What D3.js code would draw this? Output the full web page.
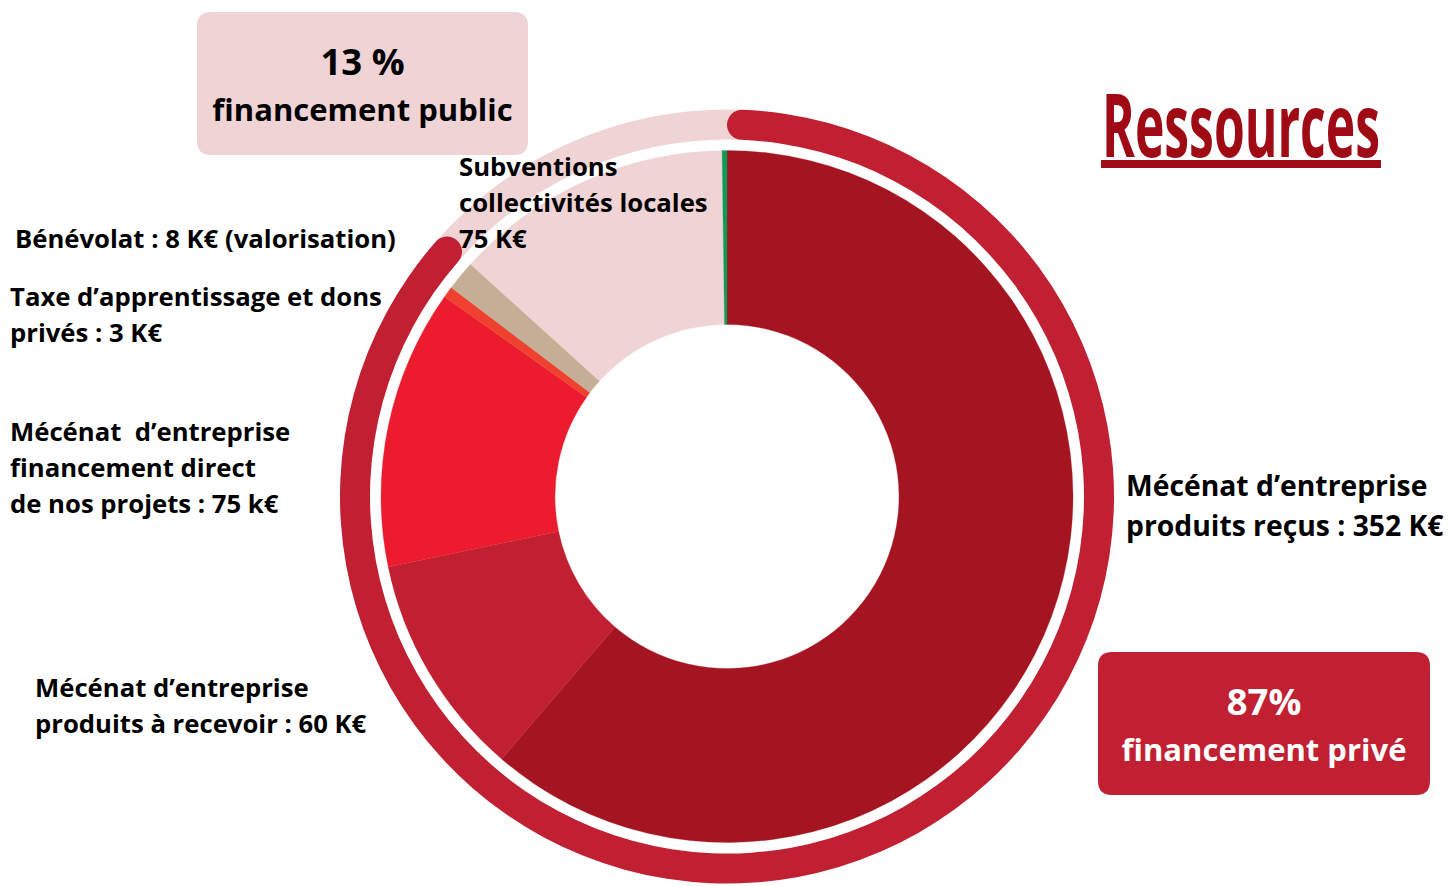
<!DOCTYPE html>
<html>
<head>
<meta charset="utf-8">
<script src="https://cdn.jsdelivr.net/npm/d3@7"></script>
<style>
  html, body { margin: 0; padding: 0; background: #fff; }
  svg { display: block; }
  text { font-family: "Open Sans", "Noto Sans", sans-serif; font-weight: 700; }
</style>
</head>
<body>
<svg width="1448" height="886"></svg>
<script>
// données (K€)
const categories = [
    'Mécénat d’entreprise produits reçus',
    'Mécénat d’entreprise produits à recevoir',
    'Mécénat d’entreprise financement direct',
    'Taxe d’apprentissage et dons privés',
    'Bénévolat',
    'Subventions collectivités locales',
    'Autres'
];
const values = [352, 60, 75, 3, 8, 75, 1.3];
const colors = ['#a51521', '#c12033', '#ec1c2e', '#ef4130', '#c4ae96', '#efd3d5', '#0f9a57'];

const shareLabels = ['87%', '13 %'];
const privateShare = 0.87;

const sliceLabels = [
    {lines: ['Mécénat d’entreprise', 'produits reçus : 352 K€'], x: 1126, y: 485, dy: 40, size: 28.3},
    {lines: ['Mécénat d’entreprise', 'produits à recevoir : 60 K€'], x: 35, y: 687, dy: 36, size: 25.7},
    {lines: ['Mécénat  d’entreprise', 'financement direct', 'de nos projets : 75 k€'], x: 10, y: 431, dy: 36, size: 25.7},
    {lines: ['Taxe d’apprentissage et dons', 'privés : 3 K€'], x: 10, y: 296, dy: 36, size: 25.7},
    {lines: ['Bénévolat : 8 K€ (valorisation)'], x: 15, y: 238, dy: 36, size: 25.7},
    {lines: ['Subventions', 'collectivités locales', '75 K€'], x: 459, y: 166, dy: 36, size: 25.7}
];

const svg = d3.select('svg');
const cx = 727;
const cy = 496.5;

const rInner = 172;
const rOuter = 346;
const ringInner = 357;
const ringOuter = 387;

const g = svg.append('g').attr('transform', `translate(${cx}, ${cy})`);

// anneau extérieur : public (fond) puis privé (bouts arrondis)
const ringArc = d3.arc().innerRadius(ringInner).outerRadius(ringOuter);
const tau = 2 * Math.PI;

g.append('path')
    .attr('d', ringArc({startAngle: privateShare * tau - 0.1, endAngle: tau + 0.05}))
    .attr('fill', '#efd3d5');

g.append('path')
    .attr('d', ringArc.cornerRadius(15)({startAngle: 0, endAngle: privateShare * tau + 0.005}))
    .attr('fill', '#c12033');

// donut
const pie = d3.pie().sort(null).value(d => d)(values);
const arc = d3.arc().innerRadius(rInner).outerRadius(rOuter);

g.selectAll('path.slice')
    .data(pie)
    .join('path')
    .attr('class', 'slice')
    .attr('d', arc)
    .attr('fill', (d, i) => colors[i])
    .attr('stroke', (d, i) => colors[i])
    .attr('stroke-width', 0.3);

// libellés
sliceLabels.forEach(lab => {
    const t = svg.append('text')
        .attr('x', lab.x)
        .attr('font-size', lab.size)
        .attr('fill', '#000');
    lab.lines.forEach((line, i) => {
        t.append('tspan')
            .attr('x', lab.x)
            .attr('y', lab.y + i * lab.dy)
            .attr('dominant-baseline', 'central')
            .style('white-space', 'pre')
            .text(line);
    });
});

// encadrés
function box(x, y, w, h, fill, textColor, big, small) {
    svg.append('path')
        .attr('d', `M${x + 14},${y} H${x + w - 14} Q${x + w},${y} ${x + w},${y + 14} V${y + h - 14} Q${x + w},${y + h} ${x + w - 14},${y + h} H${x + 14} Q${x},${y + h} ${x},${y + h - 14} V${y + 14} Q${x},${y} ${x + 14},${y} Z`)
        .attr('fill', fill);
    svg.append('text')
        .attr('x', x + w / 2)
        .attr('y', y + h * 0.34)
        .attr('text-anchor', 'middle')
        .attr('dominant-baseline', 'central')
        .attr('font-size', 36.5)
        .attr('fill', textColor)
        .text(big);
    svg.append('text')
        .attr('x', x + w / 2)
        .attr('y', y + h * 0.68)
        .attr('text-anchor', 'middle')
        .attr('dominant-baseline', 'central')
        .attr('font-size', 31)
        .attr('fill', textColor)
        .text(small);
}

box(197, 12, 331, 143, '#efd3d5', '#000', shareLabels[1], 'financement public');
box(1098, 652, 332, 143, '#c12033', '#fff', shareLabels[0], 'financement privé');

// titre (police étroite, resserrée à la largeur voulue)
const titleG = svg.append('g');
const title = titleG.append('text')
    .attr('x', 0)
    .attr('y', 0)
    .attr('font-family', '"Liberation Sans Narrow", "DejaVu Sans Condensed", sans-serif')
    .attr('font-size', 88)
    .attr('fill', '#a00a14')
    .text('Ressources');
const titleW = title.node().getComputedTextLength();
titleG.attr('transform', `translate(1102, 157) scale(${278 / titleW}, 1)`);

svg.append('rect')
    .attr('x', 1101)
    .attr('y', 160)
    .attr('width', 280)
    .attr('height', 8)
    .attr('fill', '#a00a14');
</script>
</body>
</html>
